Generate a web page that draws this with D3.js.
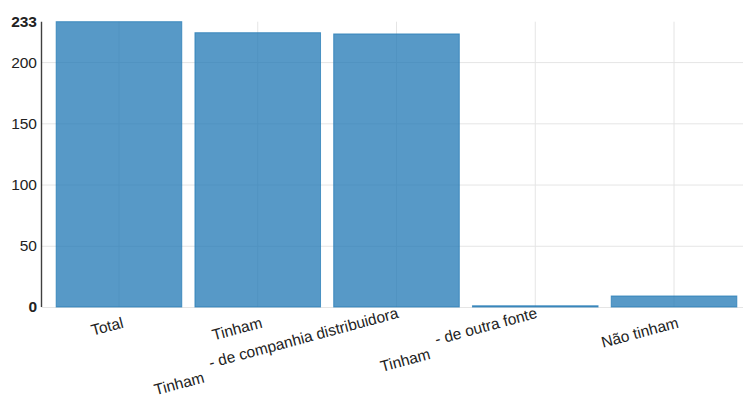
<!DOCTYPE html>
<html>
<head>
<meta charset="utf-8">
<script src="https://cdn.jsdelivr.net/npm/d3@7"></script>
<style>
  html, body { margin: 0; padding: 0; background: #fff; overflow: hidden; }
  svg { display: block; font-family: "Liberation Sans", Arial, sans-serif; }
  text { white-space: pre; }
</style>
</head>
<body>
<svg id="chart" width="743" height="418"></svg>
<script>
const categories = ["Total", "Tinham", "Tinham - de companhia distribuidora", "Tinham - de outra fonte", "Não tinham"];
const values = [233, 224, 223, 1, 9];
const yTickValues = [0, 50, 100, 150, 200, 233];

(function() {
const svg = d3.select("#chart");
const mLeft = 41.5, mTop = 21.7, mBottom = 307, mRight = 750;
const fontSize = 15.5;

const x = d3.scaleBand().domain(categories).range([43, mRight]).paddingInner(0.095).paddingOuter(0.095);
const y = d3.scaleLinear().domain([0, 233]).range([mBottom, mTop]);

// Y axis with gridlines
const yAxis = d3.axisLeft(y).tickValues(yTickValues)
  .tickSizeInner(-(mRight - mLeft)).tickSizeOuter(0).tickPadding(4.5);
const gy = svg.append("g").attr("transform", `translate(${mLeft},0)`).call(yAxis);
gy.select(".domain").remove();
gy.selectAll(".tick line").attr("stroke", "#e5e5e5").attr("stroke-width", 1)
  .attr("display", d => d === 233 ? "none" : null);
gy.selectAll(".tick text")
  .attr("fill", "#222")
  .style("font-size", fontSize + "px")
  .style("font-family", '"Liberation Sans", Arial, sans-serif')
  .style("font-weight", d => (d === 0 || d === 233) ? "bold" : "normal");

// X axis with vertical gridlines
const xAxis = d3.axisBottom(x).tickSizeInner(-(mBottom - mTop)).tickSizeOuter(0);
const gx = svg.append("g").attr("transform", `translate(0,${mBottom})`).call(xAxis);
gx.select(".domain").attr("stroke", "#e5e5e5");
gx.selectAll(".tick line").attr("stroke", "#e5e5e5");
gx.selectAll(".tick text").remove();
gx.selectAll(".tick").each(function(d) {
  const t = d3.select(this).append("text")
    .attr("transform", "rotate(-15)")
    .attr("text-anchor", "end")
    .attr("fill", "#222")
    .style("font-size", fontSize + "px")
    .style("font-family", '"Liberation Sans", Arial, sans-serif');
  const parts = d.split(" - ");
  if (parts.length > 1) {
    t.attr("x", 0).attr("y", 23);
    t.append("tspan").text(parts[0]);
    t.append("tspan").attr("dy", -12).text("  - " + parts.slice(1).join(" - "));
  } else {
    t.attr("x", 0).attr("y", 21).text(d);
  }
});

// Bars
svg.append("g").selectAll("rect").data(categories).join("rect")
  .attr("x", d => x(d))
  .attr("width", x.bandwidth())
  .attr("y", (d, i) => y(values[i]))
  .attr("height", (d, i) => y(0) - y(values[i]))
  .attr("fill", "#1f77b4")
  .attr("fill-opacity", 0.75)
  .attr("stroke", "#1f77b4")
  .attr("stroke-opacity", 0.7)
  .attr("stroke-width", 1);

// Y axis line
svg.append("line")
  .attr("x1", mLeft).attr("x2", mLeft)
  .attr("y1", y(233)).attr("y2", y(0))
  .attr("stroke", "#000").attr("stroke-opacity", 0.75).attr("stroke-width", 1.4);
})();
</script>
</body>
</html>
